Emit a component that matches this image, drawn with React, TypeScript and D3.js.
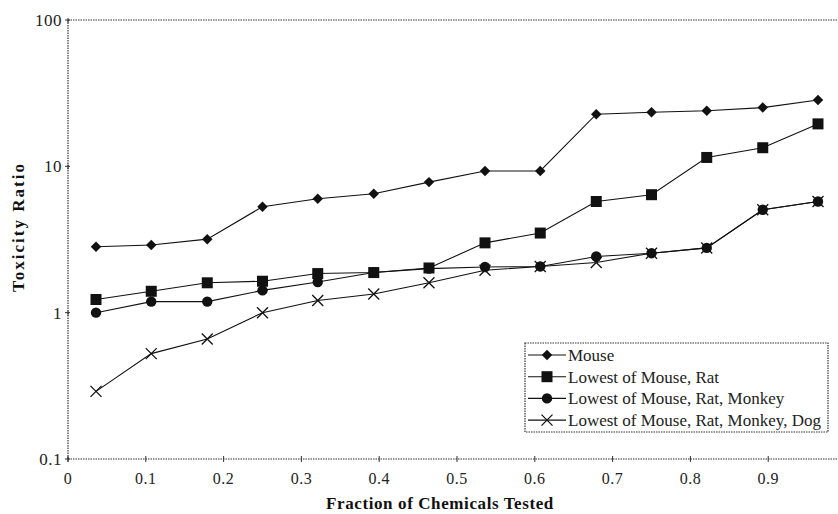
import React from "react";
import * as d3 from "d3";

const fractions = [0.036, 0.107, 0.179, 0.25, 0.321, 0.393, 0.464, 0.536, 0.607, 0.679, 0.75, 0.821, 0.893, 0.964];
const mouse = [2.82, 2.9, 3.18, 5.3, 6.0, 6.5, 7.8, 9.3, 9.3, 22.7, 23.4, 24.0, 25.2, 28.4];
const mouseRat = [1.23, 1.4, 1.6, 1.64, 1.85, 1.88, 2.02, 3.0, 3.5, 5.75, 6.4, 11.5, 13.4, 19.5];
const mouseRatMonkey = [1.0, 1.19, 1.19, 1.42, 1.62, 1.88, 2.0, 2.05, 2.07, 2.42, 2.55, 2.77, 5.05, 5.75];
const mouseRatMonkeyDog = [0.29, 0.525, 0.66, 1.0, 1.21, 1.34, 1.6, 1.95, 2.07, 2.2, 2.55, 2.77, 5.05, 5.75];
const seriesNames = ["Mouse", "Lowest of Mouse, Rat", "Lowest of Mouse, Rat, Monkey", "Lowest of Mouse, Rat, Monkey, Dog"];
const markerTypes = ["diamond", "square", "circle", "x"];
const xTicks = [0, 0.1, 0.2, 0.3, 0.4, 0.5, 0.6, 0.7, 0.8, 0.9];
const yTicks = [0.1, 1, 10, 100];
const yTickLabels = ["0.1", "1", "10", "100"];
const xTickLabels = ["0", "0.1", "0.2", "0.3", "0.4", "0.5", "0.6", "0.7", "0.8", "0.9"];

const W = 838, H = 514;
const left = 68, top = 20, bottom = 459;
const x = d3.scaleLinear().domain([0, 1]).range([left, 846]);
const y = d3.scaleLog().domain([0.1, 100]).range([bottom, top]);
const font = "Liberation Serif, DejaVu Serif, Times New Roman, serif";

function Marker({ type, cx, cy }: { type: string; cx: number; cy: number }) {
  if (type === "diamond") {
    const s = d3.symbol().type(d3.symbolSquare).size(55)();
    return <path d={s || ""} transform={`translate(${cx},${cy}) rotate(45)`} fill="#111" />;
  }
  if (type === "square") {
    return <rect x={cx - 5.5} y={cy - 5.5} width={11} height={11} fill="#111" />;
  }
  if (type === "circle") {
    return <circle cx={cx} cy={cy} r={5.2} fill="#111" />;
  }
  return (
    <path d={`M${cx - 5.5},${cy - 5.5}L${cx + 5.5},${cy + 5.5}M${cx - 5.5},${cy + 5.5}L${cx + 5.5},${cy - 5.5}`} stroke="#111" strokeWidth={1.3} fill="none" />
  );
}

export default function App() {
  const allSeries = [mouse, mouseRat, mouseRatMonkey, mouseRatMonkeyDog];
  const line = d3.line<number>().x((_, i) => x(fractions[i])).y((v) => y(v));
  const drawOrder = [3, 2, 1, 0];
  return (
    <svg width={W} height={H} style={{ position: "absolute", left: 0, top: 0, background: "#fff" }}>
      <rect width={W} height={H} fill="#fff" />
      <line x1={left} x2={W} y1={top} y2={top} stroke="#333" strokeWidth={1.2} strokeDasharray="1.5,1" />
      <line x1={left} x2={W} y1={bottom} y2={bottom} stroke="#333" strokeWidth={1.2} strokeDasharray="1.5,1" />
      <line x1={left} x2={left} y1={top} y2={bottom} stroke="#333" strokeWidth={1.2} strokeDasharray="1.5,1" />
      {yTicks.map((t, i) => (
        <g key={"y" + t}>
          <line x1={left - 3} x2={left + 2} y1={y(t)} y2={y(t)} stroke="#333" />
          <line x1={left} x2={left} y1={y(t) - 2} y2={y(t) + 3} stroke="#333" />
          <text x={left - 6} y={y(t)} dy="0.35em" textAnchor="end" fontFamily={font} fontSize={17} letterSpacing={0.5} fill="#222">{yTickLabels[i]}</text>
        </g>
      ))}
      {xTicks.map((t, i) => (
        <g key={"x" + t}>
          <line x1={x(t)} x2={x(t)} y1={bottom - 3} y2={bottom + 3} stroke="#333" />
          <text x={x(t)} y={478} dy="0.35em" textAnchor="middle" fontFamily={font} fontSize={16} letterSpacing={0.5} fill="#222">{xTickLabels[i]}</text>
        </g>
      ))}
      <text x={440} y={503} dy="0.35em" textAnchor="middle" fontFamily={font} fontSize={17} fontWeight="bold" letterSpacing={0.6} fill="#111">Fraction of Chemicals Tested</text>
      <text transform={`translate(18,227) rotate(-90)`} dy="0.35em" textAnchor="middle" fontFamily={font} fontSize={17} fontWeight="bold" letterSpacing={2} fill="#111">Toxicity Ratio</text>
      {drawOrder.map((si) => (
        <g key={"s" + si}>
          <path d={line(allSeries[si]) || ""} fill="none" stroke="#111" strokeWidth={1.1} />
          {allSeries[si].map((v, i) => (
            <Marker key={i} type={markerTypes[si]} cx={x(fractions[i])} cy={y(v)} />
          ))}
        </g>
      ))}
      <rect x={525} y={343} width={303} height={89} fill="#fff" stroke="#333" strokeWidth={1.2} strokeDasharray="1.5,1" />
      {seriesNames.map((n, i) => {
        const ly = 355 + i * 21.7;
        return (
          <g key={"l" + i}>
            <line x1={528} x2={566} y1={ly} y2={ly} stroke="#111" strokeWidth={1.1} />
            <Marker type={markerTypes[i]} cx={547} cy={ly} />
            <text x={568} y={ly} dy="0.35em" fontFamily={font} fontSize={17} fill="#222">{n}</text>
          </g>
        );
      })}
    </svg>
  );
}
